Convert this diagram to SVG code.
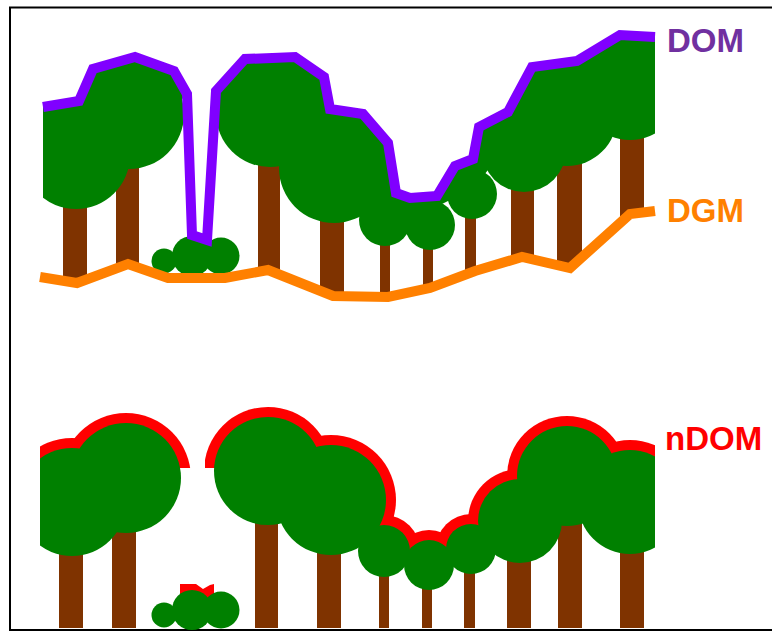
<svg xmlns="http://www.w3.org/2000/svg" width="772" height="632" viewBox="0 0 772 632">
<style>
.trunk{fill:#7F3300}
.crown{fill:#008000}
.ring{fill:#FF0000}
.line{fill:none;stroke-width:10;stroke-linejoin:miter;stroke-linecap:butt}
.label{font-family:"Liberation Sans",Arial,sans-serif;font-weight:bold;font-size:33px}
</style>
<defs>
<clipPath id="clipTop"><rect x="43" y="0" width="612" height="320"/></clipPath>
<clipPath id="clipBottom"><rect x="40" y="330" width="615" height="300"/></clipPath>
<!-- trunks end on the terrain line -->
<clipPath id="clipGround"><polygon points="0,0 772,0 772,211 655,211 630,214 570,268 522,257 475,271 430,288 388,297 333,296 268,270 225,278 168,278 128,264 77,283 40,277 0,277"/></clipPath>
<clipPath id="ringLeft"><polygon points="40,330 205,330 205,468 120,468 72,506 40,506"/></clipPath>
<clipPath id="ringRight"><polygon points="205,330 655,330 655,506 630,506 567,480 520,525 471,552 429,568 384,554 372,540 331,505 260,468 205,468"/></clipPath>
</defs>

<rect x="0" y="0" width="772" height="632" fill="#FFFFFF"/>
<rect x="10" y="7.5" width="800" height="622.5" fill="none" stroke="#000000" stroke-width="2"/>

<!-- Upper scene: forest on terrain with surface model line -->
<g id="dom-scene">
  <g id="trunks-dom" class="trunk" clip-path="url(#clipGround)">
    <rect x="63" y="155" width="24" height="145"/>
    <rect x="116" y="114" width="23" height="180"/>
    <rect x="258" y="113" width="22" height="180"/>
    <rect x="320" y="168" width="24" height="140"/>
    <rect x="380" y="220" width="10" height="90"/>
    <rect x="423" y="225" width="10" height="80"/>
    <rect x="465" y="194" width="11" height="100"/>
    <rect x="511" y="150" width="23" height="130"/>
    <rect x="557" y="116" width="25" height="170"/>
    <rect x="620" y="88" width="24" height="150"/>
  </g>
  <g id="crowns-dom" class="crown" clip-path="url(#clipTop)">
    <circle cx="76" cy="155" r="54"/>
    <circle cx="129" cy="114" r="55"/>
    <circle cx="270" cy="113" r="54"/>
    <circle cx="334" cy="168" r="55"/>
    <circle cx="385" cy="220" r="26"/>
    <circle cx="430" cy="225" r="25"/>
    <circle cx="472" cy="194" r="25"/>
    <circle cx="524" cy="150" r="42"/>
    <circle cx="567" cy="116" r="50"/>
    <circle cx="630" cy="88" r="52"/>
    <!-- canopy filling right under the surface line -->
    <polygon points="43,107 79,101 93,69 135,57 174,71 187,94 181,100 180,114 129,114 76,155 43,155"/>
    <polygon points="216,91 245,59 295,57 324,77 330,109 363,114 388,143 396,193 410,198 437,196 455,166 473,159 479,127 508,112 532,67 577,61 620,35 655,37 655,88 630,88 567,116 524,150 492,165 472,190 458,196 440,205 430,215 410,215 385,210 372,190 334,168 270,113 220,100"/>
  </g>
  <g id="bush-dom" class="crown">
    <circle cx="164" cy="261" r="12.5"/>
    <circle cx="192" cy="256" r="20"/>
    <circle cx="221" cy="256" r="18.5"/>
  </g>
  <polyline id="dgm-line" class="line" stroke="#FF8000" points="40,277 77,283 128,264 168,278 225,278 268,270 333,296 388,297 430,288 475,271 522,257 570,268 630,214 655,211"/>
  <polyline id="dom-line" class="line" stroke="#8000FF" points="43,107 79,101 93,69 135,57 174,71 187,94 192,235 207,240 216,91 245,59 295,57 324,77 330,109 363,114 388,143 396,193 410,198 437,196 455,166 473,159 479,127 508,112 532,67 577,61 620,35 655,37"/>
</g>

<!-- Lower scene: same trees standing on a flat base, canopy height outline -->
<g id="ndom-scene">
  <g id="trunks-ndom" class="trunk">
    <rect x="59" y="502" width="24" height="126"/>
    <rect x="112" y="478" width="24" height="150"/>
    <rect x="255" y="471" width="23" height="157"/>
    <rect x="317" y="500" width="24" height="128"/>
    <rect x="379" y="551" width="10" height="77"/>
    <rect x="422" y="565" width="10" height="63"/>
    <rect x="464" y="549" width="11" height="79"/>
    <rect x="507" y="521" width="24" height="107"/>
    <rect x="558" y="476" width="24" height="152"/>
    <rect x="620" y="502" width="24" height="126"/>
  </g>
  <g id="ndom-outline" class="ring">
    <g clip-path="url(#ringLeft)">
      <circle cx="72" cy="502" r="64"/>
      <circle cx="126" cy="478" r="65"/>
    </g>
    <g clip-path="url(#ringRight)">
      <circle cx="268" cy="471" r="64"/>
      <circle cx="331" cy="500" r="65"/>
      <circle cx="384" cy="551" r="36"/>
      <circle cx="429" cy="565" r="35"/>
      <circle cx="471" cy="549" r="35"/>
      <circle cx="520" cy="521" r="52"/>
      <circle cx="567" cy="476" r="60"/>
      <circle cx="630" cy="502" r="62"/>
    </g>
    <polygon points="180,584 196,584 203,589 210,585 214,584 214,600 180,600"/>
  </g>
  <g id="crowns-ndom" class="crown" clip-path="url(#clipBottom)">
    <circle cx="72" cy="502" r="54"/>
    <circle cx="126" cy="478" r="55"/>
    <circle cx="268" cy="471" r="54"/>
    <circle cx="331" cy="500" r="55"/>
    <circle cx="384" cy="551" r="26"/>
    <circle cx="429" cy="565" r="25"/>
    <circle cx="471" cy="549" r="25"/>
    <circle cx="520" cy="521" r="42"/>
    <circle cx="567" cy="476" r="50"/>
    <circle cx="630" cy="502" r="52"/>
  </g>
  <g id="bush-ndom" class="crown">
    <circle cx="164" cy="615" r="12.5"/>
    <circle cx="192" cy="610" r="20"/>
    <circle cx="221" cy="610" r="18.5"/>
  </g>
</g>

<g id="labels" class="label">
  <text x="667" y="52" fill="#7030A0">DOM</text>
  <text x="667" y="222" fill="#FF8000">DGM</text>
  <text x="665" y="450" fill="#FF0000">nDOM</text>
</g>
</svg>
